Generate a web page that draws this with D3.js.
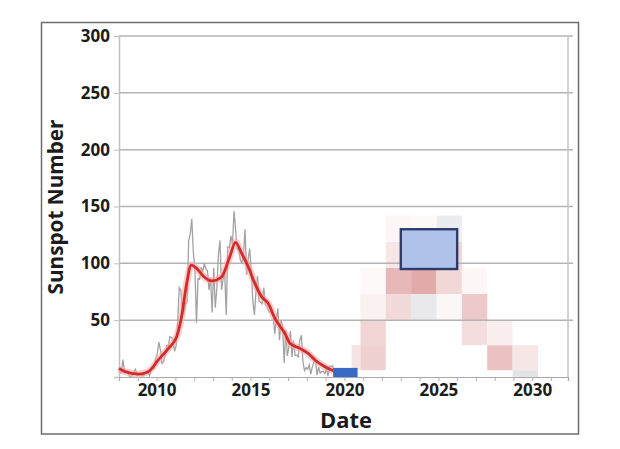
<!DOCTYPE html>
<html><head><meta charset="utf-8">
<script src="https://cdn.jsdelivr.net/npm/d3@7"></script>
<style>
html,body{margin:0;padding:0;background:#fff;}
svg text{font-family:"Open Sans","Liberation Sans",sans-serif;font-weight:700;fill:#1c1c1c;}
</style></head>
<body><svg id="c" width="620" height="449"></svg>
<script>
// ---------- data ----------
const yTicks = [50, 100, 150, 200, 250, 300];
const xLabelTicks = [2010, 2015, 2020, 2025, 2030];
const monthlyStart = 2008; // first month of monthly series (January)
const monthlyValues = [
  3.4, 4.1, 15.3, 4.9, 4.1, 5.0, 1.0, 0.5, 1.9, 4.2, 6.7, 1.2,
  2.5, 2.2, 1.0, 1.2, 2.9, 4.3, 4.9, 0.8, 6.1, 7.0, 7.7, 16.4,
  21.0, 30.7, 23.5, 11.9, 13.4, 19.5, 27.5, 26.9, 35.5, 34.8, 32.6, 22.7,
  27.3, 48.3, 78.6, 76.1, 58.2, 56.1, 64.5, 65.8, 120.1, 125.7, 139.1, 109.3,
  94.4, 47.8, 86.6, 85.9, 96.5, 92.0, 100.1, 94.8, 93.7, 76.5, 87.6, 56.8,
  96.1, 60.9, 78.3, 107.3, 120.2, 76.7, 86.2, 91.8, 54.5, 114.4, 113.9, 124.2,
  117.0, 146.1, 128.7, 112.5, 112.5, 102.9, 100.2, 106.9, 130.0, 90.0, 103.6, 112.9,
  93.0, 66.7, 54.5, 75.3, 88.8, 66.5, 65.8, 64.4, 78.6, 63.6, 62.2, 58.0,
  57.0, 56.4, 54.1, 37.9, 51.5, 60.5, 32.4, 50.2, 44.6, 12.4, 41.4, 18.5,
  26.1, 40.4, 17.7, 32.3, 18.9, 19.2, 17.8, 32.6, 36.7, 13.2, 5.7, 8.2,
  6.8, 10.7, 2.5, 8.9, 13.1, 15.6, 1.6, 8.7, 3.3, 4.9, 4.9, 3.1,
  7.7, 0.8, 9.4, 9.1, 9.9, 1.2
];
const smoothYears = [2008.0, 2008.32, 2009.03, 2009.56, 2010.09, 2010.62, 2011.07, 2011.33, 2011.6, 2011.85,
  2012.13, 2012.48, 2012.93, 2013.46, 2013.9, 2014.2, 2014.53, 2014.88, 2015.23, 2015.59, 2015.94,
  2016.3, 2016.47, 2016.83, 2017.1, 2017.63, 2018.07, 2018.43, 2018.96, 2019.4];
const smoothValues = [7.6, 4.7, 2.6, 4.7, 15, 25, 35.5, 53, 82, 98.5,
  95.6, 88.9, 84.5, 88, 106, 118.5, 108.8, 97, 82.4, 70.7, 64.8,
  51.6, 47, 38.4, 29.6, 25.2, 20.8, 15, 9, 5.5];
// 2D histogram of forecasts: column edges (years), row edges (sunspot number)
const colEdges = [2020.38, 2020.85, 2022.2, 2023.55, 2024.9, 2026.25, 2027.6, 2028.95, 2030.3];
const rowEdges = [0, 6, 28, 50, 73, 96, 119, 142];
// [column, row, intensity]
const redCells = [
  [0,1,0.18],
  [1,1,0.30],[1,2,0.27],[1,3,0.09],[1,4,0.04],
  [2,3,0.24],[2,4,0.46],[2,5,0.16],[2,6,0.06],
  [3,4,0.55],[3,5,0.18],[3,6,0.04],
  [4,3,0.05],[4,4,0.26],[4,5,0.28],
  [5,2,0.22],[5,3,0.35],[5,4,0.06],
  [6,1,0.40],[6,2,0.11],
  [7,1,0.16]
];
const grayCells = [[3,3,0.4],[4,6,0.35],[7,0,0.5]];
const forecastBox = {x0: 2023.0, x1: 2026.0, y0: 95, y1: 130};
const currentBar = {x0: 2019.4, x1: 2020.7, y0: 0, y1: 8};

// ---------- chart ----------
const svg = d3.select("#c");
const L = 119, R = 568, T = 36, B = 377;
const x = d3.scaleLinear().domain([2008, 2031.9]).range([L, R]);
const y = d3.scaleLinear().domain([0, 300]).range([B, T]);
const redColor = d3.interpolateRgb("#ffffff", "#cc6464");
const grayColor = d3.interpolateRgb("#ffffff", "#c8c6cc");

// outer frame
svg.append("rect").attr("x", 41.5).attr("y", 22.5).attr("width", 537).attr("height", 411.5)
  .attr("fill", "#fff").attr("stroke", "#6e6e6e").attr("stroke-width", 1.5);

// heatmap
const hm = svg.append("g");
hm.selectAll("rect.r").data(redCells).join("rect").attr("class", "r")
  .attr("x", d => x(colEdges[d[0]])).attr("width", d => x(colEdges[d[0] + 1]) - x(colEdges[d[0]]))
  .attr("y", d => y(rowEdges[d[1] + 1])).attr("height", d => y(rowEdges[d[1]]) - y(rowEdges[d[1] + 1]))
  .attr("fill", d => redColor(d[2]));
hm.selectAll("rect.g").data(grayCells).join("rect").attr("class", "g")
  .attr("x", d => x(colEdges[d[0]])).attr("width", d => x(colEdges[d[0] + 1]) - x(colEdges[d[0]]))
  .attr("y", d => y(rowEdges[d[1] + 1])).attr("height", d => y(rowEdges[d[1]]) - y(rowEdges[d[1] + 1]))
  .attr("fill", d => grayColor(d[2]));

// gridlines
svg.append("g").selectAll("line").data(yTicks).join("line")
  .attr("x1", L).attr("x2", R + 5).attr("y1", d => y(d)).attr("y2", d => y(d))
  .attr("stroke", "#b4b4b4").attr("stroke-width", 1.5);

// axes
const yAxis = d3.axisLeft(y).tickValues(yTicks).tickSize(5).tickPadding(4);
const gy = svg.append("g").attr("transform", `translate(${L},0)`).call(yAxis);
gy.select(".domain").attr("stroke", "#c0c0c0").attr("stroke-width", 1.5);
gy.selectAll(".tick line").attr("stroke", "#c0c0c0");
gy.selectAll(".tick text").style("font-size", "17px").attr("fill", "#1c1c1c");

svg.append("line").attr("x1", R).attr("x2", R).attr("y1", T).attr("y2", B)
  .attr("stroke", "#c4c4c4").attr("stroke-width", 1.5);

const yearTicks = d3.range(2008, 2032);
const xAxis = d3.axisBottom(x).tickValues(yearTicks).tickSize(4).tickPadding(3)
  .tickFormat(d => xLabelTicks.includes(d) ? String(d) : "");
const gx = svg.append("g").attr("transform", `translate(0,${B})`).call(xAxis);
gx.select(".domain").attr("stroke", "#a8a8a8").attr("stroke-width", 1.2);
gx.selectAll(".tick line").attr("stroke", "#b0b0b0");
gx.selectAll(".tick text").style("font-size", "17px").attr("fill", "#1c1c1c");

// data lines
const monthly = monthlyValues.map((v, i) => [monthlyStart + (i + 0.5) / 12, v]);
svg.append("path").datum(monthly)
  .attr("d", d3.line().x(d => x(d[0])).y(d => y(d[1])))
  .attr("fill", "none").attr("stroke", "#a2a2a2").attr("stroke-width", 1.3);

const smooth = smoothYears.map((t, i) => [t, smoothValues[i]]);
const sLine = d3.line().x(d => x(d[0])).y(d => y(d[1])).curve(d3.curveMonotoneX);
svg.append("path").datum(smooth).attr("d", sLine)
  .attr("fill", "none").attr("stroke", "#f2a6a6").attr("stroke-width", 7).attr("stroke-opacity", 0.55);
svg.append("path").datum(smooth).attr("d", sLine)
  .attr("fill", "none").attr("stroke", "#d42a2a").attr("stroke-width", 2.8);

// current (blue) bar and forecast box
svg.append("rect")
  .attr("x", x(currentBar.x0)).attr("width", x(currentBar.x1) - x(currentBar.x0))
  .attr("y", y(currentBar.y1)).attr("height", y(currentBar.y0) - y(currentBar.y1))
  .attr("fill", "#3b69c6");
svg.append("rect")
  .attr("x", x(forecastBox.x0)).attr("width", x(forecastBox.x1) - x(forecastBox.x0))
  .attr("y", y(forecastBox.y1)).attr("height", y(forecastBox.y0) - y(forecastBox.y1))
  .attr("fill", "#afc3ea").attr("stroke", "#2e3b6b").attr("stroke-width", 2.4);

// axis titles
const yt = svg.append("text").text("Sunspot Number")
  .attr("text-anchor", "middle").attr("transform", "translate(63,207) rotate(-90)").style("font-size", "20px");
const w1 = yt.node().getComputedTextLength();
yt.style("font-size", (20 * 175 / w1).toFixed(2) + "px");
const xt = svg.append("text").text("Date")
  .attr("text-anchor", "middle").attr("x", 346).attr("y", 428).style("font-size", "22px");
const w2 = xt.node().getComputedTextLength();
xt.style("font-size", (22 * 52 / w2).toFixed(2) + "px");
</script></body></html>
